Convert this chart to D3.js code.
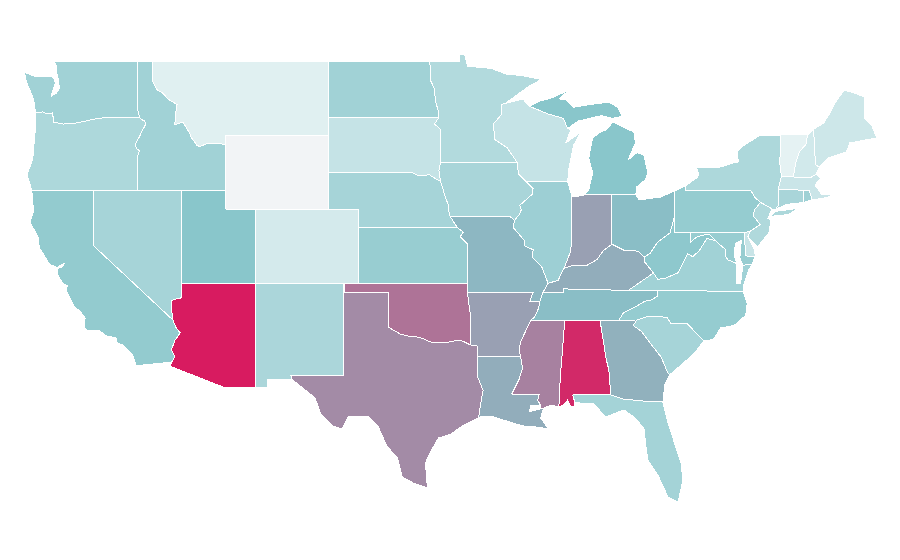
<!DOCTYPE html>
<html>
<head>
<meta charset="utf-8">
<script src="https://cdn.jsdelivr.net/npm/d3@7"></script>
<style>
html, body { margin: 0; background: #fff; }
svg { display: block; }
</style>
</head>
<body>
<svg id="map" width="900" height="560"></svg>
<script>
//State values (null = no data)
var stateNames = ["WA","OR","CA","NV","ID","MT","WY","UT","AZ","CO","NM","ND","SD","NE","KS","OK","TX","MN","IA","MO","AR","LA","WI","IL","MI","IN","OH","KY","TN","MS","AL","GA","FL","SC","NC","VA","WV","MD","DE","PA","NJ","NY","CT","RI","MA","VT","NH","ME"];
var stateValues = [39,34,45,37,39,13,null,49,100,18,35,39,24,37,43,74,67,32,36,54,61,57,24,41,49,61,52,57,52,70,96,56,38,37,44,39,47,43,23,44,33,34,36,40,22,11,19,21];

//Outlines as [lon, lat] rings
var shapes = {
WA: [[[-123.97,46.19],[-123.5,46.25],[-123.2,46.15],[-122.8,46.19],[-122.74,45.7],[-122.06,45.59],[-121.2,45.65],[-120.6,45.74],[-120,45.86],[-119.3,45.93],[-119,45.97],[-116.9,45.97],[-117.04,46.42],[-117.04,49],[-122.75,49],[-122.55,48.75],[-122.55,48.4],[-122.4,48],[-122.35,47.5],[-122.55,47.25],[-122.9,47.1],[-122.62,47.8],[-122.75,48.13],[-123.15,48.15],[-124,48.17],[-124.72,48.38],[-124.6,47.9],[-124.1,46.95],[-124.05,46.7]]],
OR: [[[-124.21,42],[-124.55,42.84],[-124.15,43.7],[-124.05,44.7],[-123.95,45.5],[-123.97,46.19],[-123.5,46.25],[-123.2,46.15],[-122.8,46.19],[-122.74,45.7],[-122.06,45.59],[-121.2,45.65],[-120.6,45.74],[-120,45.86],[-119.3,45.93],[-119,45.97],[-116.9,45.97],[-116.78,45.85],[-116.55,45.75],[-116.46,45.6],[-116.67,45.3],[-116.85,45],[-117.2,44.45],[-117.05,44.23],[-116.9,44.15],[-117.03,43.83],[-117.03,42]]],
CA: [[[-124.21,42],[-120,42],[-120,39],[-114.63,35],[-114.43,34.6],[-114.13,34.3],[-114.5,33.9],[-114.72,33.4],[-114.5,33],[-114.72,32.72],[-117.12,32.53],[-117.25,32.85],[-117.36,33.1],[-118,33.65],[-118.4,33.75],[-118.5,34.03],[-119.2,34.15],[-119.6,34.42],[-120.47,34.45],[-120.65,34.6],[-120.6,35.1],[-120.9,35.45],[-121.3,35.7],[-121.9,36.6],[-121.8,36.85],[-122.1,36.96],[-122.5,37.5],[-122.5,37.78],[-122.2,37.85],[-122,38.05],[-122.5,37.85],[-123,38],[-123.7,38.9],[-123.8,39.5],[-124.35,40.3],[-124.1,40.9],[-124.2,41.75]]],
NV: [[[-120,42],[-114.04,42],[-114.04,36.2],[-114.35,36.15],[-114.74,36.05],[-114.72,35.6],[-114.63,35],[-120,39]]],
ID: [[[-117.04,49],[-116.05,49],[-116.05,47.98],[-115.72,47.45],[-115.3,47.25],[-114.95,46.93],[-114.35,46.65],[-114.45,46.1],[-114.5,45.56],[-113.95,45.69],[-113.45,45.05],[-113.45,44.95],[-113,44.45],[-112.8,44.37],[-112.3,44.55],[-111.5,44.55],[-111.05,44.48],[-111.05,42],[-117.03,42],[-117.03,43.83],[-116.9,44.15],[-117.05,44.23],[-117.2,44.45],[-116.85,45],[-116.67,45.3],[-116.46,45.6],[-116.55,45.75],[-116.78,45.85],[-116.9,45.97],[-117.04,46.42]]],
MT: [[[-116.05,49],[-104.05,49],[-104.05,45],[-111.05,45],[-111.05,44.48],[-111.5,44.55],[-112.3,44.55],[-112.8,44.37],[-113,44.45],[-113.45,44.95],[-113.45,45.05],[-113.95,45.69],[-114.5,45.56],[-114.45,46.1],[-114.35,46.65],[-114.95,46.93],[-115.3,47.25],[-115.72,47.45],[-116.05,47.98]]],
WY: [[[-111.05,45],[-104.05,45],[-104.05,41],[-111.05,41]]],
UT: [[[-114.04,42],[-111.05,42],[-111.05,41],[-109.05,41],[-109.05,37],[-114.04,37]]],
AZ: [[[-114.04,37],[-109.05,37],[-109.05,31.33],[-111.07,31.33],[-114.81,32.5],[-114.72,32.72],[-114.5,33],[-114.72,33.4],[-114.5,33.9],[-114.13,34.3],[-114.43,34.6],[-114.63,35],[-114.72,35.6],[-114.74,36.05],[-114.35,36.15],[-114.04,36.2]]],
CO: [[[-109.05,41],[-102.05,41],[-102.05,37],[-109.05,37]]],
NM: [[[-109.05,37],[-103,37],[-103.04,32],[-106.62,32],[-106.53,31.78],[-108.2,31.78],[-108.2,31.33],[-109.05,31.33]]],
ND: [[[-104.05,49],[-97.23,49],[-97.1,48.6],[-97.15,48],[-96.85,47.5],[-96.8,46.9],[-96.6,46.3],[-96.56,45.94],[-104.05,45.94]]],
SD: [[[-104.05,45.94],[-96.56,45.94],[-96.85,45.6],[-96.45,45.3],[-96.45,43.5],[-96.55,43.1],[-96.44,42.49],[-96.7,42.6],[-97.2,42.85],[-97.9,42.8],[-98.5,43],[-104.05,43]]],
NE: [[[-104.05,43],[-98.5,43],[-97.9,42.8],[-97.2,42.85],[-96.7,42.6],[-96.44,42.49],[-96.25,42],[-96.1,41.6],[-95.9,41.2],[-95.85,40.7],[-95.77,40.58],[-95.31,40],[-102.05,40],[-102.05,41],[-104.05,41]]],
KS: [[[-102.05,40],[-95.31,40],[-94.9,39.75],[-95.1,39.5],[-94.61,39.11],[-94.62,37],[-102.05,37]]],
OK: [[[-103,37],[-94.62,37],[-94.62,36.5],[-94.43,35.4],[-94.4,33.65],[-95.1,33.92],[-96.24,33.76],[-97.12,33.81],[-97.6,33.98],[-98,34.08],[-98.6,34.12],[-99.17,34.24],[-100,34.62],[-100,36.5],[-103,36.5]]],
TX: [[[-103,36.5],[-100,36.5],[-100,34.62],[-99.17,34.24],[-98.6,34.12],[-98,34.08],[-97.6,33.98],[-97.12,33.81],[-96.24,33.76],[-95.1,33.92],[-94.4,33.65],[-93.95,33.6],[-93.95,33.02],[-93.95,31.99],[-93.55,31.2],[-93.75,30.3],[-93.86,29.7],[-94.88,29.32],[-95.7,28.85],[-96.58,28.62],[-97.13,27.86],[-97.47,27.27],[-97.4,26.6],[-97.33,25.92],[-98.2,26.15],[-99.04,26.51],[-99.38,27.59],[-100.06,28.14],[-100.67,29.22],[-101.35,29.76],[-102.71,29.76],[-103.12,29.11],[-103.74,29.27],[-104.62,29.97],[-104.96,30.78],[-106.53,31.78],[-106.62,32],[-103.04,32]]],
MN: [[[-97.23,49],[-95.15,49],[-95.15,49.38],[-94.8,49.33],[-94.6,48.72],[-93,48.6],[-92,48.3],[-90.8,48.2],[-89.6,48],[-90.5,47.6],[-92.05,46.7],[-92.3,46.65],[-92.3,46.1],[-92.85,45.6],[-92.75,44.75],[-91.9,44.3],[-91.22,43.5],[-96.45,43.5],[-96.45,45.3],[-96.85,45.6],[-96.56,45.94],[-96.6,46.3],[-96.8,46.9],[-96.85,47.5],[-97.15,48],[-97.1,48.6]]],
IA: [[[-96.45,43.5],[-91.22,43.5],[-91.15,42.9],[-90.64,42.5],[-90.15,42.1],[-90.2,41.8],[-91.05,41.2],[-90.95,40.95],[-91.1,40.7],[-91.42,40.38],[-91.73,40.61],[-95.77,40.58],[-95.85,40.7],[-95.9,41.2],[-96.1,41.6],[-96.25,42],[-96.44,42.49],[-96.55,43.1]]],
MO: [[[-95.77,40.58],[-91.73,40.61],[-91.42,40.38],[-91.5,40],[-90.75,39.3],[-90.7,39],[-90.15,38.8],[-90.2,38.4],[-89.55,37.85],[-89.13,36.98],[-89.5,36.46],[-89.7,36],[-90.37,36],[-90.15,36.5],[-94.62,36.5],[-94.62,37],[-94.61,39.11],[-95.1,39.5],[-94.9,39.75],[-95.31,40]]],
AR: [[[-94.62,36.5],[-90.15,36.5],[-90.37,36],[-89.7,36],[-89.77,35.65],[-90.05,35.15],[-90.32,34.84],[-90.6,34.5],[-91,33.81],[-91.1,33.4],[-91,33],[-93.95,33.02],[-93.95,33.6],[-94.4,33.65],[-94.43,35.4]]],
LA: [[[-93.95,33.02],[-91,33],[-90.86,32.4],[-91.1,31.8],[-91.47,31.2],[-91.6,31],[-89.73,31],[-89.85,30.65],[-89.64,30.41],[-90.3,30.38],[-90.4,30.05],[-89.6,30.2],[-89.43,30.24],[-89.64,29.7],[-89.09,29.11],[-89.98,29.22],[-90.79,29.27],[-91.4,29.4],[-92.16,29.59],[-93.04,29.81],[-93.59,29.81],[-93.86,29.7],[-93.75,30.3],[-93.55,31.2],[-93.95,31.99]]],
WI: [[[-92.05,46.7],[-90.85,46.95],[-90.4,46.55],[-89.1,46.13],[-88.1,45.9],[-87.8,45.35],[-87.6,45.27],[-87.93,44.57],[-86.9,45.16],[-87.39,44.46],[-87.7,43.27],[-87.8,42.49],[-90.64,42.5],[-91.15,42.9],[-91.22,43.5],[-91.9,44.3],[-92.75,44.75],[-92.85,45.6],[-92.3,46.1],[-92.3,46.65]]],
IL: [[[-90.64,42.5],[-87.8,42.49],[-87.53,41.72],[-87.53,39.35],[-87.6,38.7],[-88.05,37.8],[-88.45,37.15],[-89.13,36.98],[-89.55,37.85],[-90.2,38.4],[-90.15,38.8],[-90.7,39],[-90.75,39.3],[-91.5,40],[-91.42,40.38],[-91.1,40.7],[-90.95,40.95],[-91.05,41.2],[-90.2,41.8],[-90.15,42.1]]],
MI: [[[-86.7,41.76],[-84.8,41.76],[-83.17,41.76],[-83.1,42.2],[-82.5,42.6],[-82.35,42.95],[-82.62,43.92],[-83.1,44.05],[-83.7,43.65],[-83.2,44.57],[-83.3,45.16],[-84.73,45.7],[-85.2,45.27],[-85.6,45.15],[-86.1,44.84],[-86.37,43.76],[-86.1,42.95],[-86.37,42.03]],[[-90.4,46.55],[-89.1,46.13],[-88.1,45.9],[-87.8,45.35],[-87.1,45.75],[-86.3,45.9],[-85.5,46.05],[-84.75,45.9],[-84.1,46],[-84.4,46.5],[-85,46.77],[-86.1,46.67],[-87.4,46.5],[-87.9,46.9],[-88.4,46.95],[-87.7,47.43],[-88.9,47],[-89.7,46.83]]],
IN: [[[-87.53,41.72],[-87.3,41.65],[-86.7,41.76],[-84.8,41.76],[-84.8,39.1],[-85.4,38.73],[-85.8,38.27],[-86.5,37.95],[-87.5,37.93],[-88.05,37.8],[-87.6,38.7],[-87.53,39.35]]],
OH: [[[-84.8,41.76],[-83.17,41.76],[-82.95,41.49],[-81.46,41.65],[-80.52,41.98],[-80.52,40.64],[-80.85,39.7],[-81.7,39.2],[-82.2,38.6],[-82.6,38.4],[-83,38.72],[-84,38.78],[-84.8,39.1]]],
KY: [[[-89.5,36.46],[-88.07,36.5],[-88.07,36.68],[-86.5,36.65],[-83.68,36.6],[-81.97,37.54],[-82.6,38.17],[-82.6,38.4],[-83,38.72],[-84,38.78],[-84.8,39.1],[-85.4,38.73],[-85.8,38.27],[-86.5,37.95],[-87.5,37.93],[-88.05,37.8],[-88.45,37.15],[-89.13,36.98]]],
TN: [[[-90.32,34.98],[-88,34.98],[-85.6,34.98],[-84.32,34.99],[-84,35.4],[-83.1,35.75],[-82.6,36],[-82.05,36.1],[-81.7,36.3],[-81.68,36.59],[-83.68,36.6],[-86.5,36.65],[-88.07,36.68],[-88.07,36.5],[-89.5,36.46],[-89.7,36],[-89.77,35.65],[-90.05,35.15]]],
MS: [[[-90.32,34.98],[-88,34.98],[-88.3,31.9],[-88.4,30.3],[-88.9,30.4],[-89.43,30.24],[-89.6,30.2],[-89.64,30.41],[-89.85,30.65],[-89.73,31],[-91.6,31],[-91.47,31.2],[-91.1,31.8],[-90.86,32.4],[-91,33],[-91.1,33.4],[-91,33.81],[-90.6,34.5]]],
AL: [[[-88,34.98],[-85.6,34.98],[-85.18,32.87],[-85,32.3],[-84.87,30.95],[-87.45,30.95],[-87.32,30.55],[-87.35,30.3],[-87.59,30.3],[-87.8,30.68],[-88.07,30.41],[-88.4,30.3],[-88.3,31.9]]],
GA: [[[-85.6,34.98],[-83.1,35],[-83.35,34.7],[-82.8,34.4],[-81.95,33.5],[-81.45,33],[-81,32.14],[-80.85,32.05],[-81.2,31.5],[-81.33,30.57],[-82,30.57],[-84.05,30.73],[-84.87,30.95],[-85,32.3],[-85.18,32.87]]],
FL: [[[-87.45,30.95],[-84.87,30.95],[-84.05,30.73],[-82,30.57],[-81.33,30.57],[-80.98,29.43],[-80.1,27.27],[-79.96,26.35],[-80.3,25.16],[-80.98,25.43],[-81.67,26.62],[-82.35,27.43],[-82.48,28.14],[-82.62,29.16],[-83.3,29.76],[-83.98,30.14],[-85.21,29.76],[-86.09,30.51],[-86.91,30.51],[-87.32,30.55]]],
SC: [[[-83.1,35],[-82.3,35.2],[-81.05,35.15],[-80.8,34.82],[-79.67,34.8],[-78.55,33.86],[-79.2,33.2],[-79.9,32.7],[-80.85,32.05],[-81,32.14],[-81.45,33],[-81.95,33.5],[-82.8,34.4],[-83.35,34.7]]],
NC: [[[-84.32,34.99],[-83.1,35],[-82.3,35.2],[-81.05,35.15],[-80.8,34.82],[-79.67,34.8],[-78.55,33.86],[-77.9,33.95],[-77.4,34.57],[-76.5,34.7],[-75.7,35.25],[-75.6,35.9],[-75.87,36.55],[-81.68,36.59],[-81.7,36.3],[-82.05,36.1],[-82.6,36],[-83.1,35.75],[-84,35.4]]],
VA: [[[-83.68,36.6],[-81.68,36.59],[-75.87,36.55],[-75.87,36.8],[-75.5,37.7],[-75.25,38.03],[-75.9,37.95],[-76,37.3],[-76.05,36.95],[-76.35,37],[-76.3,37.55],[-76.3,38.05],[-76.9,38.25],[-77.05,38.4],[-77.05,38.8],[-77.5,39.1],[-77.75,39.3],[-78.35,39.4],[-78.85,38.75],[-79.3,38.42],[-79.65,38.58],[-80.3,37.55],[-81.22,37.24],[-81.68,37.2],[-81.97,37.54]]],
WV: [[[-80.52,40.64],[-80.52,39.72],[-79.48,39.72],[-79.48,39.2],[-79.05,39.47],[-78.75,39.55],[-78.2,39.65],[-77.75,39.3],[-78.35,39.4],[-78.85,38.75],[-79.3,38.42],[-79.65,38.58],[-80.3,37.55],[-81.22,37.24],[-81.68,37.2],[-81.97,37.54],[-82.6,38.17],[-82.6,38.4],[-82.2,38.6],[-81.7,39.2],[-80.85,39.7]]],
MD: [[[-79.48,39.72],[-75.8,39.72],[-75.7,38.46],[-75.05,38.45],[-75.25,38.03],[-75.9,37.95],[-76.1,38.35],[-76,39.3],[-76.4,39.15],[-76.5,38.5],[-76.3,38.05],[-76.9,38.25],[-77.05,38.4],[-77.05,38.8],[-77.5,39.1],[-77.75,39.3],[-78.2,39.65],[-78.75,39.55],[-79.05,39.47],[-79.48,39.2]]],
DE: [[[-75.8,39.72],[-75.4,39.8],[-75.55,39.5],[-75.1,38.8],[-75.05,38.45],[-75.7,38.46]]],
PA: [[[-80.52,41.98],[-79.76,42.27],[-79.76,42],[-75.35,42],[-75.05,41.6],[-74.7,41.36],[-75.1,40.95],[-75.2,40.65],[-74.72,40.15],[-75.4,39.8],[-75.8,39.72],[-80.52,39.72],[-80.52,40.64]]],
NJ: [[[-74.7,41.36],[-73.9,41],[-74.2,40.5],[-74,40.4],[-74.1,39.75],[-74.9,38.95],[-75.55,39.5],[-75.4,39.8],[-74.72,40.15],[-75.2,40.65],[-75.1,40.95]]],
NY: [[[-79.76,42.27],[-79,42.7],[-78.9,42.9],[-79.05,43.27],[-77.5,43.25],[-76.5,43.5],[-76.2,43.55],[-76.3,44.1],[-75.8,44.45],[-74.7,45],[-73.35,45],[-73.3,44.3],[-73.4,43.6],[-73.27,42.75],[-73.5,42.05],[-73.48,41.2],[-73.65,41],[-73.9,41],[-74.7,41.36],[-75.05,41.6],[-75.35,42],[-79.76,42]],[[-74,40.6],[-73.7,40.87],[-72.6,40.98],[-72,41.1],[-72.8,40.7]]],
CT: [[[-73.5,42.05],[-71.8,42.02],[-71.8,41.35],[-72.9,41.25],[-73.65,41],[-73.48,41.2]]],
RI: [[[-71.8,42.02],[-71.38,42.02],[-71.2,41.5],[-71.8,41.35]]],
MA: [[[-73.27,42.75],[-71.3,42.7],[-70.9,42.88],[-70.6,42.65],[-71,42.3],[-70.55,41.8],[-70,41.78],[-70.05,42.05],[-69.95,41.67],[-70.65,41.55],[-71.2,41.5],[-71.38,42.02],[-71.8,42.02],[-73.5,42.05]]],
VT: [[[-73.35,45],[-71.5,45.01],[-71.6,44.5],[-72.05,44.1],[-72.3,43.5],[-72.46,42.73],[-73.27,42.75],[-73.4,43.6],[-73.3,44.3]]],
NH: [[[-71.5,45.01],[-71.1,45.3],[-71,44.3],[-70.98,43.4],[-70.7,43.27],[-70.9,42.88],[-71.3,42.7],[-72.46,42.73],[-72.3,43.5],[-72.05,44.1],[-71.6,44.5]]],
ME: [[[-71.1,45.3],[-70.4,45.65],[-69.98,46.19],[-69.64,46.73],[-69,47.43],[-68.32,47.27],[-67.63,47.05],[-67.63,45.92],[-67.15,45.54],[-66.8,44.84],[-68.64,44.57],[-68.85,44.08],[-70.08,43.76],[-70.7,43.27],[-70.98,43.4],[-71,44.3]]]
};

var svg = d3.select("#map");

//the map is plain lon/lat stretched to the page
var x = d3.scaleLinear().domain([-109.05, -102.05]).range([255, 358]);
var y = d3.scaleLinear().domain([49, 37]).range([61, 283]);

var color = d3.scaleLinear()
    .domain([0, 50, 100])
    .range(["#ffffff", "#87c5ca", "#d81b60"]);

var line = d3.line()
    .x(d => x(d[0]))
    .y(d => y(d[1]))
    .curve(d3.curveLinearClosed);

svg.selectAll("path")
    .data(stateNames)
    .enter()
    .append("path")
    .attr("d", (name) => shapes[name].map(ring => line(ring)).join(""))
    .attr("fill", (name, i) => stateValues[i] === null ? "#f2f4f6" : color(stateValues[i]))
    .attr("stroke", "#fff")
    .attr("stroke-width", 1)
    .attr("stroke-linejoin", "round")
    .attr("shape-rendering", "crispEdges");
</script>
</body>
</html>
